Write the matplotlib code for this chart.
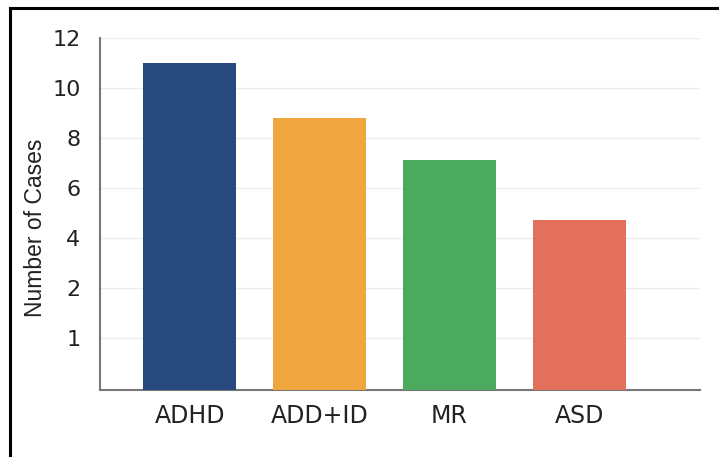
import matplotlib.pyplot as plt
from matplotlib.lines import Line2D

# diagnoses and number of cases
categories = ["ADHD", "ADD+ID", "MR", "ASD"]
cases = [11, 8.8, 7.1, 4.7]
colors = ["#27497e", "#efa63f", "#4caa5f", "#e2705a"]

# y ticks (bottom gridline is labelled 1)
ytick_pos = [0, 2, 4, 6, 8, 10, 12]
ytick_labels = ["1", "2", "4", "6", "8", "10", "12"]

base = -2.08

fig = plt.figure(figsize=(7.19, 4.57), dpi=100)
ax = fig.add_axes([0.139, 0.147, 0.835, 0.77])

x = list(range(len(categories)))
ax.bar(x, [c - base for c in cases], bottom=base, width=0.72, color=colors, zorder=3)

ax.set_xlim(-0.69, 3.93)
ax.set_ylim(base, 12)
ax.set_xticks(x)
ax.set_xticklabels(categories, fontsize=17, family="DejaVu Sans", color="#222222")
ax.set_yticks(ytick_pos)
ax.set_yticklabels(ytick_labels, fontsize=16, family="DejaVu Sans", color="#222222")
ax.tick_params(axis="both", length=0)
ax.tick_params(axis="y", pad=14)
ax.tick_params(axis="x", pad=10)
ax.grid(axis="y", color="#ececec", linewidth=1, zorder=0)

ax.set_ylabel("Number of Cases", fontsize=16.5, family="Liberation Sans", color="#222222")
ax.yaxis.set_label_coords(-0.088, 0.46)

for s in ["top", "right"]:
    ax.spines[s].set_visible(False)
for s in ["left", "bottom"]:
    ax.spines[s].set_color("#777777")
    ax.spines[s].set_linewidth(1.5)
ax.spines["left"].set_bounds(base, 12)

# frame lines on top and left of the figure
fig.add_artist(Line2D([10 / 719, 1], [1 - 8 / 457, 1 - 8 / 457], color="black", linewidth=2.2, transform=fig.transFigure))
fig.add_artist(Line2D([10 / 719, 10 / 719], [0, 1 - 8 / 457], color="black", linewidth=2.2, transform=fig.transFigure))

fig.savefig("out.png", dpi=100)
